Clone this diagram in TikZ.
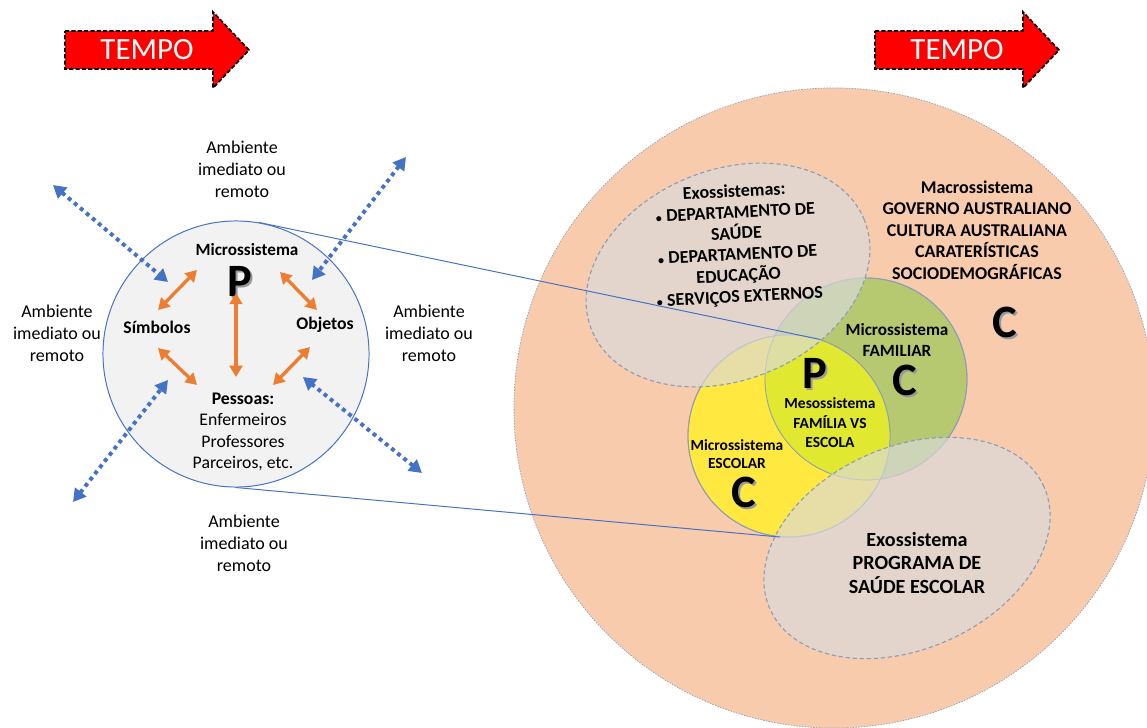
\documentclass[tikz,border=0pt]{standalone}
\usepackage{fontspec}
\setmainfont{Carlito}
\usetikzlibrary{arrows.meta, shapes.geometric}
\definecolor{tempored}{HTML}{FF0000}
\definecolor{microgray}{HTML}{F2F2F2}
\definecolor{linkblue}{HTML}{4472C4}
\definecolor{arroworange}{HTML}{ED7D31}
\definecolor{macropeach}{HTML}{F8CBAD}
\definecolor{exogray}{HTML}{DADADA}
\definecolor{famgreen}{HTML}{B6C970}
\definecolor{escyellow}{HTML}{FFE83F}
\definecolor{mesoyellow}{HTML}{E1E830}
\definecolor{rimblue}{HTML}{8C9DB8}

\begin{document}
\begin{tikzpicture}[
        x=0.025cm, y=-0.025cm,
        tempo/.style={fill=tempored, draw=black, line width=1.2pt, dash pattern=on 3pt off 1.5pt},
        tempotext/.style={text=white, inner sep=0pt, font=\fontsize{22}{26}\selectfont},
        envtext/.style={align=center, inner sep=0pt, font=\fontsize{12.8}{15.6}\selectfont},
        boldtext/.style={align=center, inner sep=0pt, font=\fontsize{12.6}{15.3}\selectfont\bfseries},
        bigletter/.style={inner sep=0pt, font=\fontsize{33}{36}\selectfont\bfseries},
        lettershadow/.style={bigletter, text=black!40},
        twoway/.style={{Triangle[length=8pt,width=9pt]}-{Triangle[length=8pt,width=9pt]}, arroworange, line width=2.4pt},
        envarrow/.style={{Triangle[length=9pt,width=10pt]}-{Triangle[length=9pt,width=10pt]}, linkblue, line width=2.8pt, dash pattern=on 2.8pt off 2.8pt},
        system/.style={circle, draw=rimblue, line width=0.6pt, inner sep=0pt},
        exo/.style={ellipse, draw=rimblue, line width=0.8pt, dash pattern=on 3pt off 2pt, fill=exogray, fill opacity=0.67, inner sep=0pt},
        zoomline/.style={linkblue, line width=0.7pt}
    ]

    \useasboundingbox (0,0) rectangle (1147,728);
    \clip (0,0) rectangle (1147,728);

    % --- TIME ARROWS ---
    \draw[tempo] (65,31) -- (213,31) -- (213,12) -- (249,50) -- (213,88) -- (213,69) -- (65,69) -- cycle;
    \node[tempotext] (tempoleft) at (147,50) {TEMPO};
    \draw[tempo] (875,31) -- (1023,31) -- (1023,12) -- (1059,50) -- (1023,88) -- (1023,69) -- (875,69) -- cycle;
    \node[tempotext] (temporight) at (957,50) {TEMPO};

    % --- LEFT: MICROSYSTEM ---
    \node[circle, minimum size=6.65cm, fill=microgray, draw=linkblue, line width=0.7pt] (micro) at (236,354) {};

    \node[boldtext, font=\fontsize{12.2}{15}\selectfont\bfseries] (microlbl) at (247,250) {Microssistema};
    \node[lettershadow] (pmicshadow) at (242,283) {P};
    \node[bigletter] (pmic) at (240,281) {P};
    \node[boldtext] (symb) at (157,327) {Símbolos};
    \node[boldtext] (obj) at (325,325) {Objetos};
    \node[envtext, font=\fontsize{12.6}{15.3}\selectfont] (pess) at (243,432)
        {\textbf{Pessoas:}\\Enfermeiros\\Professores\\Parceiros, etc.};

    \draw[twoway] ([shift={(1,-17)}]symb.center) -- ([shift={(-50,20)}]microlbl.center);
    \draw[twoway] ([shift={(-8,-15)}]obj.center) -- ([shift={(33,22)}]microlbl.center);
    \draw[twoway] ([shift={(-4,12)}]pmic.center) -- ([shift={(-7,-55)}]pess.center);
    \draw[twoway] ([shift={(1,21)}]symb.center) -- ([shift={(-46,-47)}]pess.center);
    \draw[twoway] ([shift={(-15,22)}]obj.center) -- ([shift={(30,-47)}]pess.center);

    % --- ENVIRONMENT ---
    \node[envtext] (envtop) at (242,169) {Ambiente\\imediato ou\\remoto};
    \node[envtext] (envleft) at (57,333) {Ambiente\\imediato ou\\remoto};
    \node[envtext] (envright) at (429,333) {Ambiente\\imediato ou\\remoto};
    \node[envtext] (envbottom) at (244,543) {Ambiente\\imediato ou\\remoto};

    \coordinate (envNW) at (53,185);
    \coordinate (envNE) at (406,157);
    \coordinate (envSW) at (73,502);
    \coordinate (envSE) at (422,473);
    \draw[envarrow] (envNW) -- ([shift={(11,-45)}]symb.center);
    \draw[envarrow] (envNE) -- ([shift={(-13,-45)}]obj.center);
    \draw[envarrow] (envSW) -- ([shift={(11,53)}]symb.center);
    \draw[envarrow] (envSE) -- ([shift={(-22,52)}]obj.center);

    % --- RIGHT: NESTED SYSTEMS ---
    \node[system, minimum size=16cm, fill=macropeach, line width=0.5pt, dash pattern=on 1pt off 1pt] (macro) at (834,408) {};
    \node[system, minimum size=5.05cm, fill=famgreen] (familiar) at (866,379) {};
    \node[system, minimum size=5.05cm, fill=escyellow] (escolar) at (789,436) {};
    \begin{scope}
        \clip (familiar.center) circle [radius=2.525cm];
        \fill[mesoyellow] (escolar.center) circle [radius=2.525cm];
    \end{scope}
    \draw[rimblue, line width=0.6pt] (familiar.center) circle [radius=2.525cm];
    \draw[rimblue, line width=0.6pt] (escolar.center) circle [radius=2.525cm];

    \node[exo, minimum width=7.35cm, minimum height=5.25cm, rotate=22] (exotop) at (728,275) {};
    \node[exo, minimum width=7.5cm, minimum height=5.05cm, rotate=24] (exobottom) at (907,548) {};

    % --- LABELS ---
    \node[boldtext, font=\fontsize{12.8}{15}\selectfont\bfseries, rotate=3] (exotoptext) at (737,245)
        {Exossistemas:\\${\scriptstyle\bullet}$ DEPARTAMENTO DE\\SAÚDE\\${\scriptstyle\bullet}$ DEPARTAMENTO DE\\EDUCAÇÃO\\${\scriptstyle\bullet}$ SERVIÇOS EXTERNOS};
    \node[boldtext, font=\fontsize{12.8}{15.3}\selectfont\bfseries] (macrotext) at (977,230)
        {Macrossistema\\GOVERNO AUSTRALIANO\\CULTURA AUSTRALIANA\\CARATERÍSTICAS\\SOCIODEMOGRÁFICAS};
    \node[boldtext, font=\fontsize{12.2}{15}\selectfont\bfseries] (familiartext) at (897,340) {Microssistema\\FAMILIAR};
    \node[boldtext, font=\fontsize{11}{13.9}\selectfont\bfseries] (mesotext) at (830,423) {Mesossistema\\FAMÍLIA VS\\ESCOLA};
    \node[boldtext, font=\fontsize{11}{13.2}\selectfont\bfseries] (escolartext) at (737,454) {Microssistema\\ESCOLAR};
    \node[boldtext, font=\fontsize{14.3}{17}\selectfont\bfseries] (exobottomtext) at (917,563)
        {Exossistema\\PROGRAMA DE\\SAÚDE ESCOLAR};

    \node[lettershadow] (cmacroshadow) at (1007,324) {C};
    \node[bigletter] (cmacro) at (1005,322) {C};
    \node[lettershadow] (cfamshadow) at (907,382) {C};
    \node[bigletter] (cfam) at (905,380) {C};
    \node[lettershadow] (cescshadow) at (746,494) {C};
    \node[bigletter] (cesc) at (744,492) {C};
    \node[lettershadow] (pmesoshadow) at (817,375) {P};
    \node[bigletter] (pmeso) at (815,373) {P};

    % --- ZOOM LINES ---
    \draw[zoomline] (micro.80) -- (escolar.72);
    \draw[zoomline] (micro.south) -- (escolar.265);

\end{tikzpicture}
\end{document}
